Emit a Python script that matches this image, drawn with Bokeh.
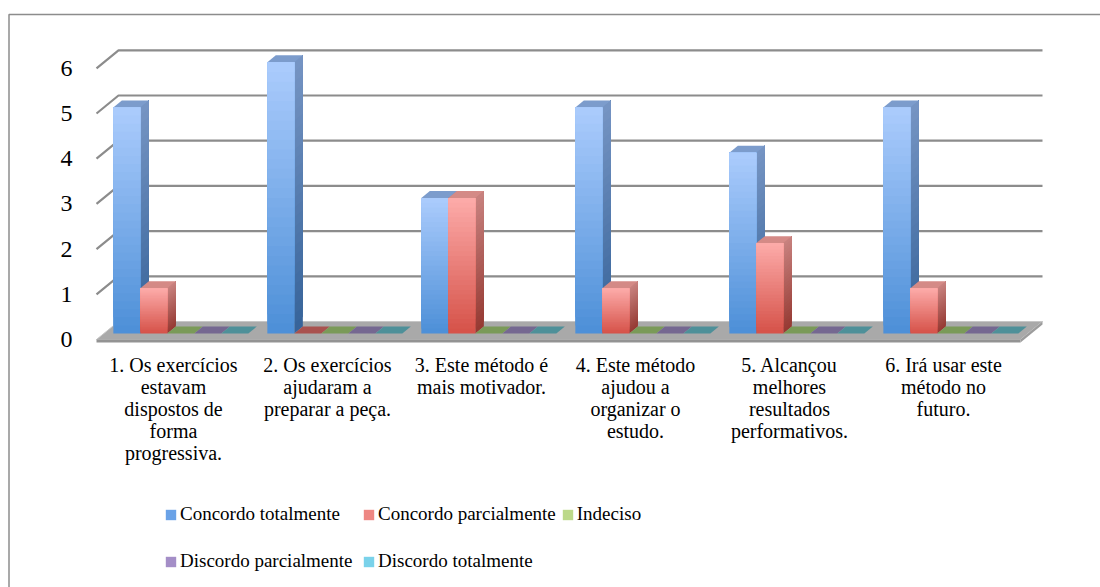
import numpy as np
from bokeh.plotting import figure
from bokeh.models import (Range1d, LinearAxis, FixedTicker, Legend, LegendItem,
                          ColumnDataSource)
from bokeh.embed import file_html
from bokeh.resources import INLINE

# ---------------- data ----------------
categories = [
    "1. Os exercícios\nestavam\ndispostos de\nforma\nprogressiva.",
    "2. Os exercícios\najudaram a\npreparar a peça.",
    "3. Este método é\nmais motivador.",
    "4. Este método\najudou a\norganizar o\nestudo.",
    "5. Alcançou\nmelhores\nresultados\nperformativos.",
    "6. Irá usar este\nmétodo no\nfuturo.",
]
series_names = ["Concordo totalmente", "Concordo parcialmente", "Indeciso",
                "Discordo parcialmente", "Discordo totalmente"]
concordo_totalmente = [5, 6, 3, 5, 4, 5]
concordo_parcialmente = [1, 0, 3, 1, 2, 1]
indeciso = [0, 0, 0, 0, 0, 0]
discordo_parcialmente = [0, 0, 0, 0, 0, 0]
discordo_totalmente = [0, 0, 0, 0, 0, 0]
y_ticks = [0, 1, 2, 3, 4, 5, 6]

series_values = [concordo_totalmente, concordo_parcialmente, indeciso,
                 discordo_parcialmente, discordo_totalmente]

# ---------------- styles ----------------
front_top = ["#aacbfc", "#fcaaa8", "#d8eaaa", "#cdbde6", "#aae3f2"]
front_bot = ["#4e90d8", "#d6534a", "#93b650", "#7a5ca2", "#40a6c2"]
side_top = ["#7594c3", "#c7817e", "#9fb27a", "#9384ad", "#78b2c2"]
side_bot = ["#37649a", "#963a33", "#627d33", "#4e3b70", "#27738a"]
top_col = ["#7c9ccc", "#d48a86", "#a5bd7c", "#9b8bb8", "#7dbdcc"]
zero_top = ["#5b80b2", "#a9524f", "#7a9a58", "#756891", "#4e9099"]
legend_col = ["#6aa2e7", "#ee8783", "#bcd989", "#a48ec7", "#7ad2ea"]
FONT = "Liberation Serif"
GRID = "#8c8c8c"

# ---------------- geometry (screen scale) ----------------
W, H = 1100, 587
PX_X = 154.0      # px per category
PX_Y = 45.2       # px per value unit
X_ORIGIN = 173.0  # canvas px of category 0 centre (floor front)
Y_ORIGIN = 333.0  # canvas px from top of value 0 on bar front plane
x_range = Range1d(-X_ORIGIN / PX_X, (W - X_ORIGIN) / PX_X)
y_range = Range1d(-(H - Y_ORIGIN) / PX_Y, Y_ORIGIN / PX_Y)

DXC = 22.0 / PX_X        # full depth, x
DYD = 18.0 / PX_Y        # full depth, y
Y0 = -6.0 / PX_Y         # floor front plane (value 0)
F0, F1 = 1.0 / 3.0, 0.72  # bar depth fractions
BAR_W = 27.0 / PX_X
GAP = (1.0 - 5 * BAR_W) / 2.0
bdx = (F1 - F0) * DXC
bdy = (F1 - F0) * DYD
XL, XR = -0.5, len(categories) - 0.5

p = figure(width=W, height=H, x_range=x_range, y_range=y_range,
           toolbar_location=None, output_backend="svg", min_border=0,
           x_axis_type=None, y_axis_type=None)
p.outline_line_color = None
p.background_fill_color = "white"
p.border_fill_color = "white"
p.extra_y_ranges = {"front": Range1d(y_range.start - Y0, y_range.end - Y0)}

# outer chart border (left and top edges visible)
bx = x_range.start + 8.5 / PX_X
by = (Y_ORIGIN - 14.0) / PX_Y
p.line([bx, bx, x_range.end], [y_range.start, by, by], line_color="#8c8c8c", line_width=1.5)

# floor
p.patch([XL, XR, XR + DXC, XL + DXC], [Y0, Y0, Y0 + DYD, Y0 + DYD],
        fill_color="#a9a9a9", line_color="#c6c6c6", line_width=1)
slab = 3.0 / PX_Y
p.patch([XL, XR, XR, XL], [Y0, Y0, Y0 - slab, Y0 - slab],
        fill_color="#939393", line_color=None)
p.patch([XR, XR + DXC, XR + DXC, XR], [Y0, Y0 + DYD, Y0 + DYD - slab, Y0 - slab],
        fill_color="#9c9c9c", line_color=None)

# gridlines: left wall diagonals + back wall
gx, gy = [], []
for t in y_ticks[1:]:
    gx.append([XL, XL + DXC, XR + DXC])
    gy.append([t + Y0, t + Y0 + DYD, t + Y0 + DYD])
p.multi_line(gx, gy, line_color=GRID, line_width=2.2)


def hexrgb(h):
    h = h.lstrip("#")
    return np.array([int(h[i:i + 2], 16) for i in (0, 2, 4)], dtype=float)


def lerp(c1, c2, t):
    a, b = hexrgb(c1), hexrgb(c2)
    c = a + (b - a) * t
    return "#%02x%02x%02x" % tuple(int(round(v)) for v in c)


N = 28
front = dict(left=[], right=[], bottom=[], top=[], color=[])
side = dict(xs=[], ys=[], color=[])
tops = dict(xs=[], ys=[], color=[])
for i in range(len(categories)):
    for j, vals in enumerate(series_values):
        v = vals[i]
        xl = i - 0.5 + F0 * DXC + GAP + j * BAR_W
        xr = xl + BAR_W
        if v > 0:
            for k in range(N):
                t = k / (N - 1)
                yk = v * k / N
                side["xs"].append([xr, xr + bdx, xr + bdx, xr])
                side["ys"].append([yk, yk + bdy, v + bdy, v])
                side["color"].append(lerp(side_bot[j], side_top[j], t))
                front["left"].append(xl)
                front["right"].append(xr)
                front["bottom"].append(yk)
                front["top"].append(v)
                front["color"].append(lerp(front_bot[j], front_top[j], t))
            tops["color"].append(top_col[j])
        else:
            tops["color"].append(zero_top[j])
        tops["xs"].append([xl, xr, xr + bdx, xl + bdx])
        tops["ys"].append([v, v, v + bdy, v + bdy])

p.patches("xs", "ys", source=ColumnDataSource(side), fill_color="color", line_color=None)
p.patches("xs", "ys", source=ColumnDataSource(tops), fill_color="color", line_color=None)
p.quad(left="left", right="right", bottom="bottom", top="top",
       source=ColumnDataSource(front), fill_color="color", line_color=None)

# y axis on the front-left wall edge
yax = LinearAxis(y_range_name="front", fixed_location=XL,
                 ticker=FixedTicker(ticks=y_ticks))
yax.axis_line_color = None
yax.major_tick_line_color = None
yax.minor_tick_line_color = None
yax.major_label_standoff = 18
yax.major_label_text_font = FONT
yax.major_label_text_font_size = "24px"
yax.major_label_text_color = "black"
p.add_layout(yax, "left")

# category axis below the floor
xax = LinearAxis(fixed_location=Y0 - slab, ticker=FixedTicker(ticks=list(range(len(categories)))))
xax.major_label_overrides = {i: c for i, c in enumerate(categories)}
xax.axis_line_color = None
xax.major_tick_line_color = None
xax.minor_tick_line_color = None
xax.major_label_standoff = 5
xax.major_label_text_font = FONT
xax.major_label_text_font_size = "20px"
xax.major_label_text_line_height = 1.0
xax.major_label_text_color = "black"
p.add_layout(xax, "below")

# legend (two rows); legend swatches use off-range dummy renderers
off = x_range.end + 10
dummies = []
for j, name in enumerate(series_names):
    r = p.quad(left=[off], right=[off + 1], bottom=[0], top=[1],
               fill_color=legend_col[j], line_color=None)
    dummies.append(r)


def make_legend(idx, loc):
    lg = Legend(items=[LegendItem(label=series_names[j], renderers=[dummies[j]]) for j in idx],
                orientation="horizontal", location=loc)
    lg.label_text_font = FONT
    lg.label_text_font_size = "19px"
    lg.label_text_color = "black"
    lg.glyph_width = 13
    lg.glyph_height = 13
    lg.label_standoff = 3
    lg.label_width = 177
    lg.spacing = 5
    lg.padding = 0
    lg.margin = 0
    lg.border_line_color = None
    lg.background_fill_alpha = 0
    return lg


p.add_layout(make_legend([0, 1, 2], (164, 62)))
p.add_layout(make_legend([3, 4], (164, 15)))

open("out.html", "w").write(file_html(p, INLINE))
